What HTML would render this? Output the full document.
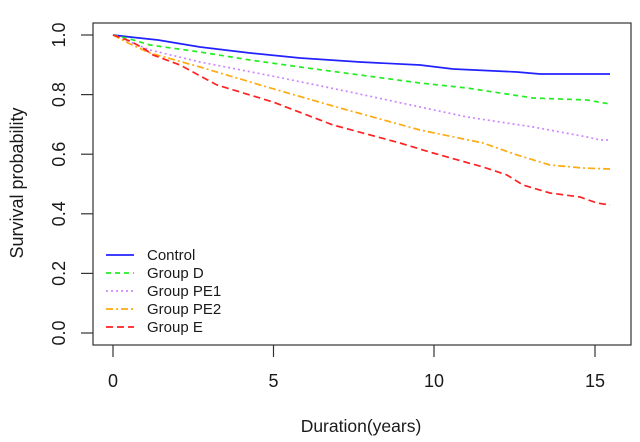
<!DOCTYPE html>
<html><head><style>body{margin:0;background:#fff}svg{display:block}text{font-family:"Liberation Sans",Arial,sans-serif;fill:#1a1a1a}</style></head><body>
<svg width="640" height="442" viewBox="0 0 640 442">
<rect x="93" y="23" width="538" height="322" fill="none" stroke="#333" stroke-width="1.2"/>
<g stroke="#333" stroke-width="1.2">
<line x1="81" y1="35" x2="93" y2="35"/><line x1="81" y1="94.6" x2="93" y2="94.6"/><line x1="81" y1="154.2" x2="93" y2="154.2"/><line x1="81" y1="213.8" x2="93" y2="213.8"/><line x1="81" y1="273.4" x2="93" y2="273.4"/><line x1="81" y1="333" x2="93" y2="333"/>
<line x1="113" y1="345" x2="113" y2="357"/><line x1="273.5" y1="345" x2="273.5" y2="357"/><line x1="434" y1="345" x2="434" y2="357"/><line x1="595" y1="345" x2="595" y2="357"/>
</g>
<g font-size="18" text-anchor="middle">
<text transform="translate(65,35) rotate(-90)">1.0</text>
<text transform="translate(65,94.6) rotate(-90)">0.8</text>
<text transform="translate(65,154.2) rotate(-90)">0.6</text>
<text transform="translate(65,213.8) rotate(-90)">0.4</text>
<text transform="translate(65,273.4) rotate(-90)">0.2</text>
<text transform="translate(65,333) rotate(-90)">0.0</text>
<text x="113" y="387">0</text><text x="273.5" y="387">5</text><text x="434" y="387">10</text><text x="595" y="387">15</text>
<text x="361" y="432" font-size="17.5">Duration(years)</text>
<text transform="translate(23,183) rotate(-90)">Survival probability</text>
</g>
<g fill="none" stroke-width="1.7">
<polyline stroke="#2222ff" points="113,35 130,37 158,40 200,47 250,53 300,58 360,62 420,65 453,69 517,72 540,74 610,74"/>
<polyline stroke="#22ee22" stroke-dasharray="5,4" points="113,35 130,39 150,45 200,52 250,60 300,67 360,75 420,83 467,88 533,98 587,100 610,104"/>
<polyline stroke="#cc88ff" stroke-dasharray="2,3" points="113,35 130,42 150,50 200,62 277,77 350,92 420,107 467,117 533,127 587,137 600,140 610,140"/>
<polyline stroke="#ffaa11" stroke-dasharray="7,3,2,3" points="113,35 130,44 150,53 200,67 267,87 340,108 420,130 483,143 517,155 550,165 583,168 610,169"/>
<polyline stroke="#ff2222" stroke-dasharray="7,4" points="113,35 130,41 143,48 153,55 180,65 217,85 273,102 333,125 400,143 433,153 483,167 507,175 523,185 550,193 580,197 597,203 610,205"/>
</g>
<g stroke-width="1.7">
<line x1="106" y1="255" x2="134" y2="255" stroke="#2222ff"/>
<line x1="106" y1="273" x2="134" y2="273" stroke="#22ee22" stroke-dasharray="5,4"/>
<line x1="106" y1="291" x2="134" y2="291" stroke="#cc88ff" stroke-dasharray="2,3"/>
<line x1="106" y1="309" x2="134" y2="309" stroke="#ffaa11" stroke-dasharray="7,3,2,3"/>
<line x1="106" y1="327" x2="134" y2="327" stroke="#ff2222" stroke-dasharray="7,4"/>
</g>
<g font-size="15">
<text x="147" y="260">Control</text><text x="147" y="278">Group D</text><text x="147" y="296">Group PE1</text><text x="147" y="314">Group PE2</text><text x="147" y="332">Group E</text>
</g>
</svg>
</body></html>
